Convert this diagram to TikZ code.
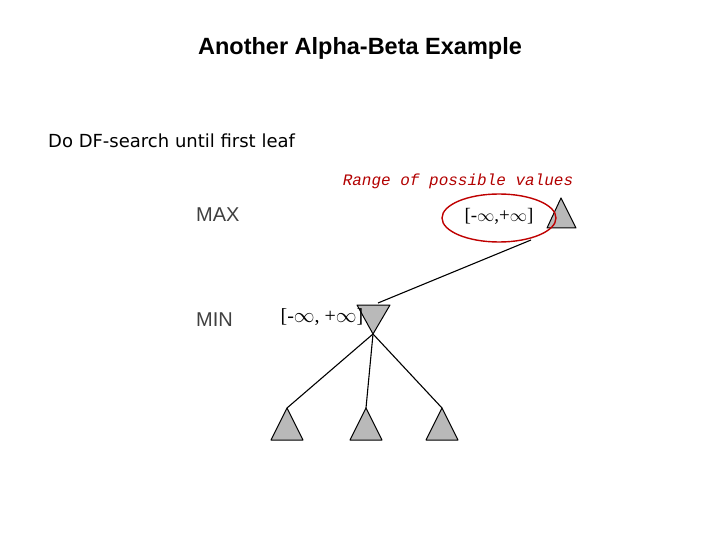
\documentclass[tikz,border=0pt]{standalone}
\usepackage{fontspec}
\setmainfont{Liberation Serif}
\newfontfamily\arial{Liberation Sans}
\newfontfamily\dejavu{DejaVu Sans}
\newfontfamily\mono{Liberation Mono}
\begin{document}
\begin{tikzpicture}[x=1pt,y=-1pt,
  tri/.style={fill=gray!55,draw=black,line width=1pt,line join=round},
  edge/.style={line width=1.1pt},
  lvl/.style={font=\arial\fontsize{20}{22}\selectfont,text=black!75}]
\useasboundingbox (0,0) rectangle (720,540);
\node (title) at (360,48) {\arial\bfseries\fontsize{23.5}{26}\selectfont Another Alpha-Beta Example};
\node[anchor=west,inner sep=0pt] (do) at (48,141) {\dejavu\fontsize{18}{20}\selectfont Do DF-search until first leaf};
\node (range) at (458,181) {\mono\itshape\fontsize{16}{18}\selectfont\color{red!70!black} Range of possible values};
\node[lvl,anchor=west,inner sep=0pt] (max) at (196,215) {MAX};
\node[lvl,anchor=west,inner sep=0pt] (min) at (196,320) {MIN};
% triangles
\coordinate (root) at (561,198);
\draw[tri] (root) -- (576,228) -- (547,228) -- cycle;
\coordinate (mintop) at (373,305);
\coordinate (minap) at (373,334);
\draw[tri] (minap) -- (357,305) -- (390,305) -- cycle;
\coordinate (l1) at (287,408);
\coordinate (l2) at (366,408);
\coordinate (l3) at (442,408);
\foreach \c in {l1,l2,l3}{
  \draw[tri] (\c) -- ([xshift=16pt,yshift=-32pt]\c) -- ([xshift=-16pt,yshift=-32pt]\c) -- cycle;}
% edges
\coordinate (rb) at (531,240);
\draw[edge] (rb) -- (378,303);
\draw[edge] (minap) -- (l1);
\draw[edge] (minap) -- (l2);
\draw[edge] (minap) -- (l3);
% labels
\node (rv) at (499,216) {\fontsize{19}{21}\selectfont[-$\infty$,+$\infty$]};
\node (mv) at (322,317) {\fontsize{20}{22}\selectfont[-$\infty$, +$\infty$]};
\draw[red!75!black,line width=1.4pt] (499,218) ellipse [x radius=57, y radius=24];
\end{tikzpicture}
\end{document}
